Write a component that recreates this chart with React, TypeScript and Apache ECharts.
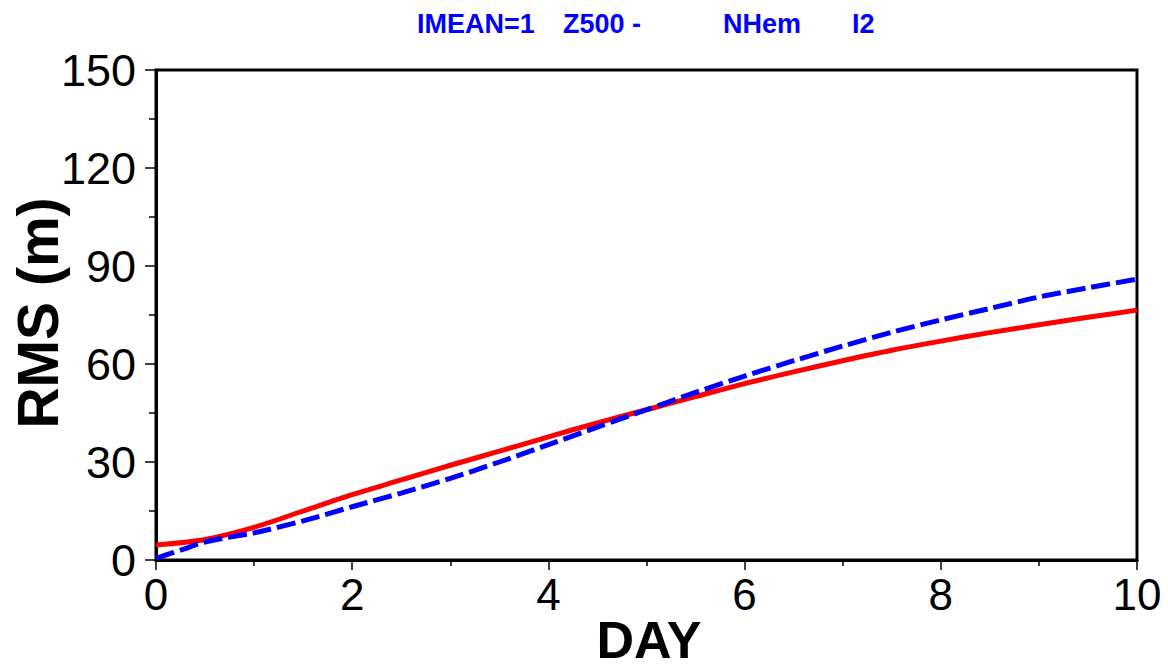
import React, { useEffect, useRef } from "react";
import * as echarts from "echarts";

const days = [0, 0.5, 1, 1.5, 2, 2.5, 3, 3.5, 4, 4.5, 5, 5.5, 6, 6.5, 7, 7.5, 8, 8.5, 9, 9.5, 10];
const redRms = [4.6, 6.3, 10, 15, 20, 24.5, 29, 33.3, 37.7, 42, 46, 50, 54, 57.6, 61, 64.2, 67, 69.6, 72, 74.3, 76.5];
const blueDays = [0, 0.25, 0.5, 0.75, 1, 1.5, 2, 2.5, 3, 3.5, 4, 4.5, 5, 5.5, 6, 6.5, 7, 7.5, 8, 8.5, 9, 9.5, 10];
const blueRms = [0.5, 3, 5.5, 7, 8.3, 12, 16.3, 20.5, 25, 30, 35.3, 40.7, 46, 51.3, 56.3, 61, 65.5, 69.7, 73.5, 77, 80.5, 83.3, 86];
const titleParts = ["IMEAN=1", "Z500 -", "NHem", "I2"];
const titleX = [417, 563, 723, 852];

export default function App() {
  const ref = useRef<HTMLDivElement>(null);
  useEffect(() => {
    if (!ref.current) return;
    const chart = echarts.init(ref.current, null, { renderer: "svg" });
    const font = "'Liberation Sans', Arial, sans-serif";
    chart.setOption({
      animation: false,
      backgroundColor: "#ffffff",
      textStyle: { fontFamily: font },
      grid: {
        left: 156,
        right: 31,
        top: 70,
        bottom: 111,
        show: true,
        borderColor: "#000",
        borderWidth: 3,
        backgroundColor: "transparent",
      },
      graphic: [
        ...titleParts.map((t, i) => ({
          type: "text",
          x: titleX[i],
          y: 24,
          style: {
            text: t,
            fill: "#0000ff",
            font: `bold 27px ${font}`,
            textVerticalAlign: "middle",
            textAlign: "left",
          },
        })),
        {
          type: "text",
          x: 38,
          y: 313,
          rotation: Math.PI / 2,
          style: {
            text: "RMS (m)",
            fill: "#000",
            font: `bold 57px ${font}`,
            textAlign: "center",
            textVerticalAlign: "middle",
          },
        },
        {
          type: "text",
          x: 649,
          y: 640,
          style: {
            text: "DAY",
            fill: "#000",
            font: `bold 52px ${font}`,
            textAlign: "center",
            textVerticalAlign: "middle",
          },
        },
      ],
      xAxis: {
        type: "value",
        min: 0,
        max: 10,
        interval: 2,
        axisLine: { show: true, lineStyle: { color: "#000", width: 3 } },
        axisTick: { show: true, length: 10, lineStyle: { color: "#000", width: 1.5 } },
        minorTick: { show: true, splitNumber: 2, length: 6, lineStyle: { color: "#000", width: 1.5 } },
        splitLine: { show: false },
        axisLabel: { fontSize: 44, color: "#000", margin: 12, fontFamily: font },
      },
      yAxis: {
        type: "value",
        min: 0,
        max: 150,
        interval: 30,
        axisLine: { show: true, lineStyle: { color: "#000", width: 3 } },
        axisTick: { show: true, length: 11, lineStyle: { color: "#000", width: 1.5 } },
        minorTick: { show: true, splitNumber: 2, length: 7, lineStyle: { color: "#000", width: 1.5 } },
        splitLine: { show: false },
        axisLabel: { fontSize: 45, color: "#000", margin: 20, fontFamily: font },
      },
      series: [
        {
          type: "line",
          data: days.map((d, i) => [d, redRms[i]]),
          showSymbol: false,
          smooth: 0.3,
          lineStyle: { color: "#ff0000", width: 5 },
          z: 3,
        },
        {
          type: "line",
          data: blueDays.map((d, i) => [d, blueRms[i]]),
          showSymbol: false,
          smooth: 0.3,
          lineStyle: { color: "#0000ff", width: 5, type: [19, 6] },
          z: 4,
        },
      ],
    });
    return () => chart.dispose();
  }, []);
  return <div ref={ref} style={{ width: 1168, height: 671, position: "absolute", left: 0, top: 0 }} />;
}
